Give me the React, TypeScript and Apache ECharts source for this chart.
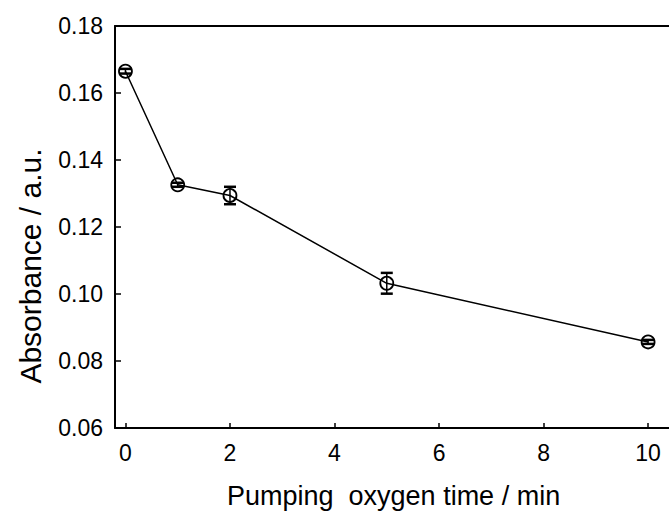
import React, { useEffect, useRef } from "react";
import * as echarts from "echarts";

const times = [0, 1, 2, 5, 10];
const absorbance = [0.1665, 0.1326, 0.1294, 0.1032, 0.0857];
const errors = [0.0007, 0.0006, 0.0026, 0.0031, 0.0006];
const xTicks = [0, 2, 4, 6, 8, 10];
const xTitle = "Pumping  oxygen time / min";
const yTitle = "Absorbance / a.u.";

const FONT = "Liberation Sans, Arial, sans-serif";

export default function App() {
  const ref = useRef<HTMLDivElement>(null);
  useEffect(() => {
    if (!ref.current) return;
    const chart = echarts.init(ref.current, null, { renderer: "svg" });
    const pts = times.map((t, i) => [t, absorbance[i]]);
    const errData = times.map((t, i) => [t, absorbance[i], errors[i]]);
    chart.setOption({
      animation: false,
      backgroundColor: "#ffffff",
      grid: { left: 115, right: 0, top: 26, bottom: 88, containLabel: false },
      xAxis: [
        {
          type: "value",
          min: -0.2,
          max: 10.4,
          splitLine: { show: false },
          axisLine: { show: true, onZero: false, lineStyle: { color: "#000", width: 2 } },
          axisTick: { show: true, inside: true, length: 5, lineStyle: { color: "#000", width: 1.5 }, customValues: xTicks },
          axisLabel: { color: "#000", fontSize: 23, fontFamily: FONT, margin: 13, customValues: xTicks, formatter: (v: number) => String(v) },
        },
        {
          type: "value",
          position: "top",
          min: -0.2,
          max: 10.4,
          splitLine: { show: false },
          axisLine: { show: true, onZero: false, lineStyle: { color: "#000", width: 2 } },
          axisTick: { show: false },
          axisLabel: { show: false },
        },
      ],
      yAxis: {
        type: "value",
        min: 0.06,
        max: 0.18,
        interval: 0.02,
        splitLine: { show: false },
        axisLine: { show: true, onZero: false, lineStyle: { color: "#000", width: 2 } },
        axisTick: { show: true, inside: true, length: 6, lineStyle: { color: "#000", width: 1.5 } },
        axisLabel: { color: "#000", fontSize: 23, fontFamily: FONT, margin: 12, formatter: (v: number) => v.toFixed(2) },
      },
      graphic: [
        {
          type: "text",
          left: 227,
          top: 482,
          style: { text: xTitle, fill: "#000", font: `27px ${FONT}` },
        },
        {
          type: "text",
          x: 30,
          y: 266,
          rotation: Math.PI / 2,
          style: { text: yTitle, fill: "#000", font: `30px ${FONT}`, textAlign: "center", textVerticalAlign: "middle" },
        },
      ],
      series: [
        {
          type: "custom",
          xAxisIndex: 0,
          data: errData,
          z: 1,
          renderItem: (params: any, api: any) => {
            const x = api.value(0);
            const y = api.value(1);
            const e = api.value(2);
            const top = api.coord([x, y + e]);
            const bot = api.coord([x, y - e]);
            const hw = 6;
            const st = { stroke: "#000", lineWidth: 2.5 };
            return {
              type: "group",
              children: [
                { type: "line", shape: { x1: top[0], y1: top[1], x2: bot[0], y2: bot[1] }, style: { stroke: "#000", lineWidth: 1.5 } },
                { type: "line", shape: { x1: top[0] - hw, y1: top[1], x2: top[0] + hw, y2: top[1] }, style: st },
                { type: "line", shape: { x1: bot[0] - hw, y1: bot[1], x2: bot[0] + hw, y2: bot[1] }, style: st },
              ],
            };
          },
        },
        {
          type: "line",
          xAxisIndex: 0,
          data: pts,
          z: 2,
          symbol: "circle",
          symbolSize: 13,
          showAllSymbol: true,
          lineStyle: { color: "#000", width: 1.5 },
          itemStyle: { color: "rgba(0,0,0,0)", borderColor: "#000", borderWidth: 1.8 },
        },
      ],
    });
    return () => chart.dispose();
  }, []);
  return <div ref={ref} style={{ width: 669, height: 516, position: "absolute", left: 0, top: 0 }} />;
}
